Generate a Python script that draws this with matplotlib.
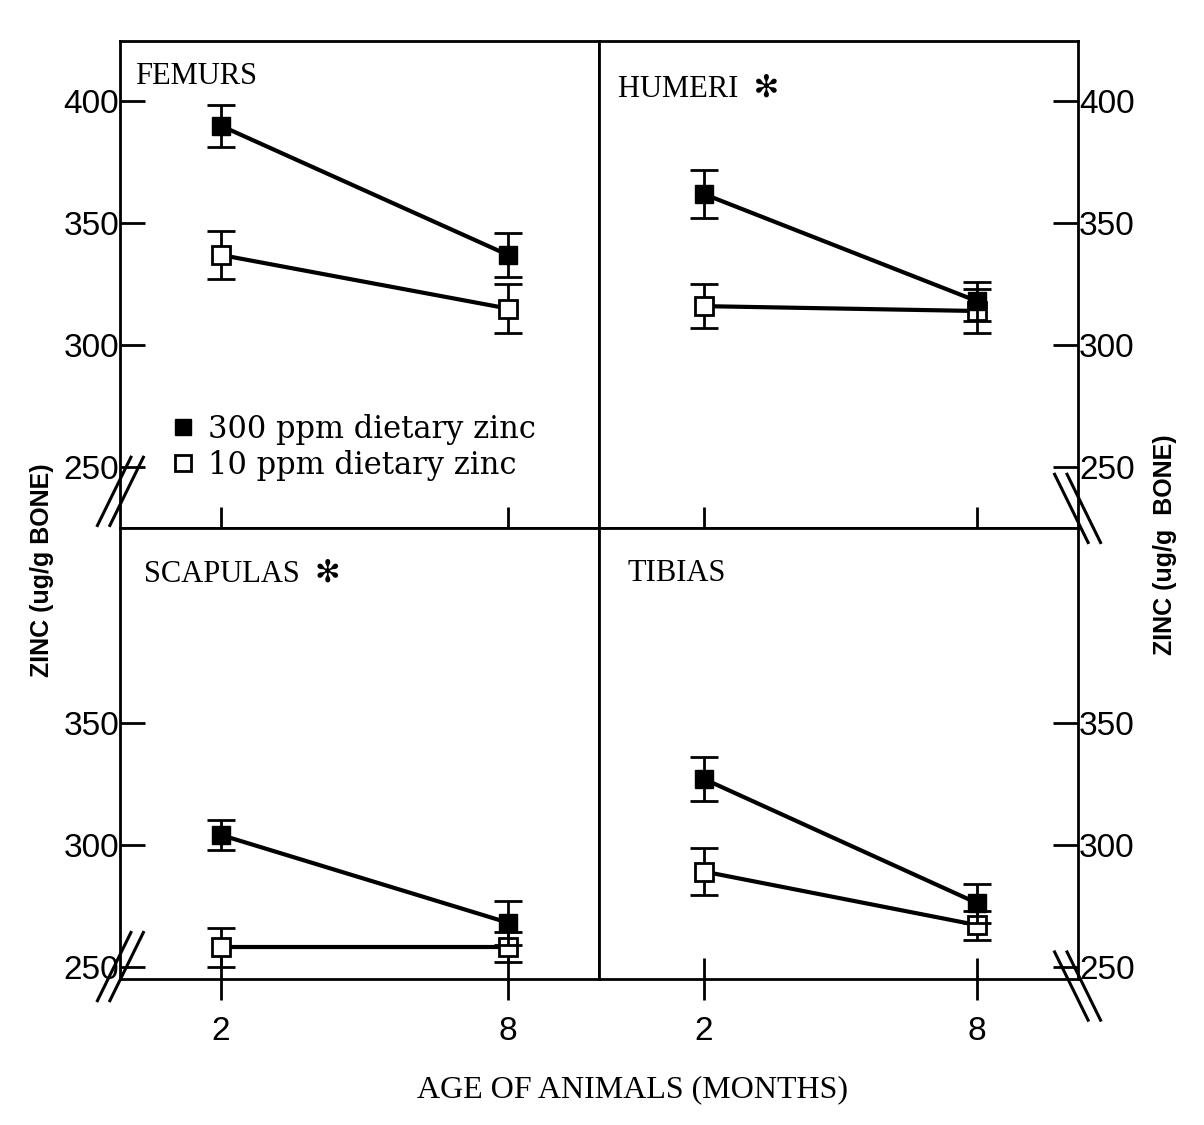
import matplotlib
matplotlib.use("Agg")
import matplotlib.pyplot as plt
import matplotlib.transforms as mtransforms
from matplotlib.font_manager import FontProperties

# ages (months) and bone panels
ages = [2, 8]
bones = ["FEMURS", "HUMERI", "SCAPULAS", "TIBIAS"]
stars = [False, True, True, False]

# zinc (ug/g bone)
zinc_300 = {"FEMURS": [390, 337], "HUMERI": [362, 318],
            "SCAPULAS": [304, 268], "TIBIAS": [327, 276]}
err_300 = {"FEMURS": [8.5, 9], "HUMERI": [10, 8],
           "SCAPULAS": [6, 9], "TIBIAS": [9, 8]}
zinc_10 = {"FEMURS": [337, 315], "HUMERI": [316, 314],
           "SCAPULAS": [258, 258], "TIBIAS": [289, 267]}
err_10 = {"FEMURS": [10, 10], "HUMERI": [9, 9],
          "SCAPULAS": [8, 6], "TIBIAS": [9.5, 6]}

top_ticks = [250, 300, 350, 400]
bottom_ticks = [250, 300, 350]

fig = plt.figure(figsize=(12.04, 11.25), dpi=100)
gs = fig.add_gridspec(2, 2, left=0.1, right=0.895, top=0.964, bottom=0.13,
                      hspace=0, wspace=0, height_ratios=[200, 185])

tick_font = dict(family="Liberation Sans", size=24)
serif = ["Liberation Serif", "DejaVu Sans"]

title_pos = {"FEMURS": (0.03, 0.955), "HUMERI": (0.04, 0.93),
             "SCAPULAS": (0.05, 0.93), "TIBIAS": (0.06, 0.93)}
break_y = {"FEMURS": 240, "HUMERI": 233, "SCAPULAS": 250, "TIBIAS": 242}

for i, bone in enumerate(bones):
    r, c = divmod(i, 2)
    ax = fig.add_subplot(gs[r, c])
    for s in ax.spines.values():
        s.set_linewidth(2)

    ax.errorbar(ages, zinc_10[bone], yerr=err_10[bone], fmt="s-", color="black",
                mfc="white", mec="black", mew=2, ms=13, lw=3, elinewidth=2,
                capsize=10, capthick=2, zorder=3)
    ax.errorbar(ages, zinc_300[bone], yerr=err_300[bone], fmt="s-", color="black",
                mfc="black", mec="black", ms=13, lw=3, elinewidth=2,
                capsize=10, capthick=2, zorder=4)

    if r == 0:
        ax.set_ylim(225, 425)
        ax.set_yticks(top_ticks)
    else:
        ax.set_ylim(245, 430)
        ax.set_yticks(bottom_ticks)
    if c == 0:
        ax.set_xlim(-0.1, 9.9)
    else:
        ax.set_xlim(-0.3, 10.2)

    ax.set_xticks(ages)
    ax.tick_params(axis="x", direction="inout", length=30, width=2, pad=12)
    if r == 0:
        ax.set_xticklabels([])
    else:
        ax.set_xticklabels([str(a) for a in ages], fontdict=tick_font)

    if c == 0:
        ax.tick_params(axis="y", left=True, right=False, labelleft=True,
                       labelright=False, direction="in", length=18, width=2, pad=1)
    else:
        ax.tick_params(axis="y", left=False, right=True, labelleft=False,
                       labelright=True, direction="in", length=18, width=2, pad=1)
    for lab in ax.get_yticklabels():
        lab.set_fontproperties(FontProperties(**tick_font))

    title = bone + ("  \u273B" if stars[i] else "")
    tx, ty = title_pos[bone]
    ax.text(tx, ty, title, transform=ax.transAxes, ha="left", va="top",
            family=serif, fontsize=22)

    # axis break marks
    trans = mtransforms.blended_transform_factory(ax.transAxes, ax.transData)
    xb = 0.0 if c == 0 else 1.0
    sgn = 1 if c == 0 else -1
    yb = break_y[bone]
    for off in (-0.013, 0.013):
        ax.plot([xb + off - 0.035, xb + off + 0.035],
                [yb - 14 * sgn, yb + 14 * sgn], transform=trans,
                color="black", lw=2.2, clip_on=False, zorder=5)

    if bone == "FEMURS":
        h1, = ax.plot([], [], "s", color="black", ms=11)
        h2, = ax.plot([], [], "s", mfc="white", mec="black", mew=2, ms=11)
        ax.legend([h1, h2], ["300 ppm dietary zinc", "10 ppm dietary zinc"],
                  loc="upper left", bbox_to_anchor=(0.08, 0.265), frameon=False,
                  handlelength=0.6, handletextpad=0.5, labelspacing=0.15,
                  borderpad=0, prop=dict(family="DejaVu Serif", size=22))

fig.text(0.035, 0.493, "ZINC (ug/g BONE)", rotation=90, ha="center", va="center",
         family="Liberation Sans", fontsize=18, fontweight="bold")
fig.text(0.968, 0.516, "ZINC (ug/g  BONE)", rotation=90, ha="center", va="center",
         family="Liberation Sans", fontsize=18, fontweight="bold")
fig.text(0.525, 0.031, "AGE OF ANIMALS (MONTHS)", ha="center", va="center",
         family="Liberation Serif", fontsize=23)

fig.savefig("out.png", dpi=100, facecolor="white")
